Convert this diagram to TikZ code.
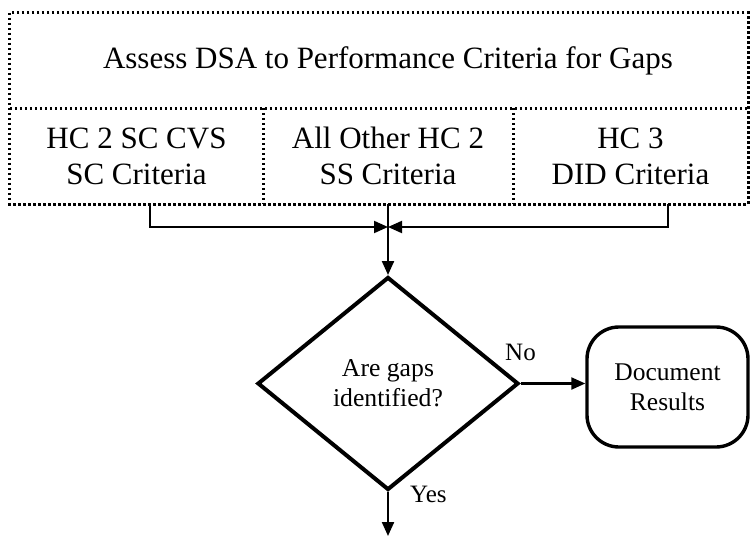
\documentclass[tikz,border=0pt]{standalone}
\usepackage{fontspec}
\setmainfont{Liberation Serif}
\usetikzlibrary{shapes.geometric,arrows.meta}
\begin{document}
\begin{tikzpicture}[x=1pt,y=-1pt,
  cell/.style={rectangle, inner sep=0pt, align=center, font=\fontsize{31}{36}\selectfont},
  dotline/.style={line width=3.2pt, dash pattern=on 2.6pt off 2.4pt},
  tip/.style={-{Triangle[length=14pt,width=12pt]}},
  flow/.style={line width=2.2pt, tip},
  feed/.style={line width=2pt, tip},
  decision/.style={diamond, draw, line width=4pt, inner sep=0pt, align=center,
    font=\fontsize{25.7}{30}\selectfont},
  terminal/.style={draw, rectangle, rounded corners=32pt, line width=3.4pt,
    inner sep=0pt, align=center, font=\fontsize{25.5}{30}\selectfont},
  tag/.style={font=\fontsize{25}{30}\selectfont, inner sep=0pt, anchor=base west}]

\useasboundingbox (0,0) rectangle (753,536);

% assessment block with its three criteria groups
\node[cell, minimum width=738pt, minimum height=95pt] (assess) at (379,60.5)
  {\hspace*{18pt}Assess DSA to Performance Criteria for Gaps};
\node[cell, minimum width=253pt, minimum height=96pt] (hcsc) at (136.5,156)
  {HC 2 SC CVS\\SC Criteria};
\node[cell, minimum width=250pt, minimum height=96pt] (hcss) at (388,156)
  {All Other HC 2\\SS Criteria};
\node[cell, minimum width=235pt, minimum height=96pt] (hcdid) at (630.5,156)
  {HC 3\\DID Criteria};

% dotted frame and dividers of the block
\draw[dotline] (assess.north west) rectangle (hcdid.south east);
\draw[dotline] (assess.south west) -- (assess.south east);
\draw[dotline] (hcsc.north east) -- (hcsc.south east);
\draw[dotline] (hcss.north east) -- (hcss.south east);

% decision and terminal
\node[decision, minimum width=261pt, minimum height=213pt] (gaps) at (388,383.5)
  {Are gaps\\identified?};
\node[terminal, minimum width=161pt, minimum height=120pt] (doc) at (667.5,387)
  {Document\\Results};

% merging connectors
\coordinate (join) at (388,227);
\coordinate (exit) at (388,536);
\draw[feed] ([xshift=13.5pt]hcsc.south) |- (join);
\draw[feed] ([xshift=37.5pt]hcdid.south) |- (join);
\draw[flow] (hcss.south) -- (gaps.north);

% decision outcomes
\draw[flow] (gaps.east) -- (gaps.east -| doc.west);
\draw[flow] (gaps.south) -- (exit);
\node[tag] (no) at (505,360) {No};
\node[tag] (yes) at (410,502) {Yes};
\end{tikzpicture}
\end{document}
